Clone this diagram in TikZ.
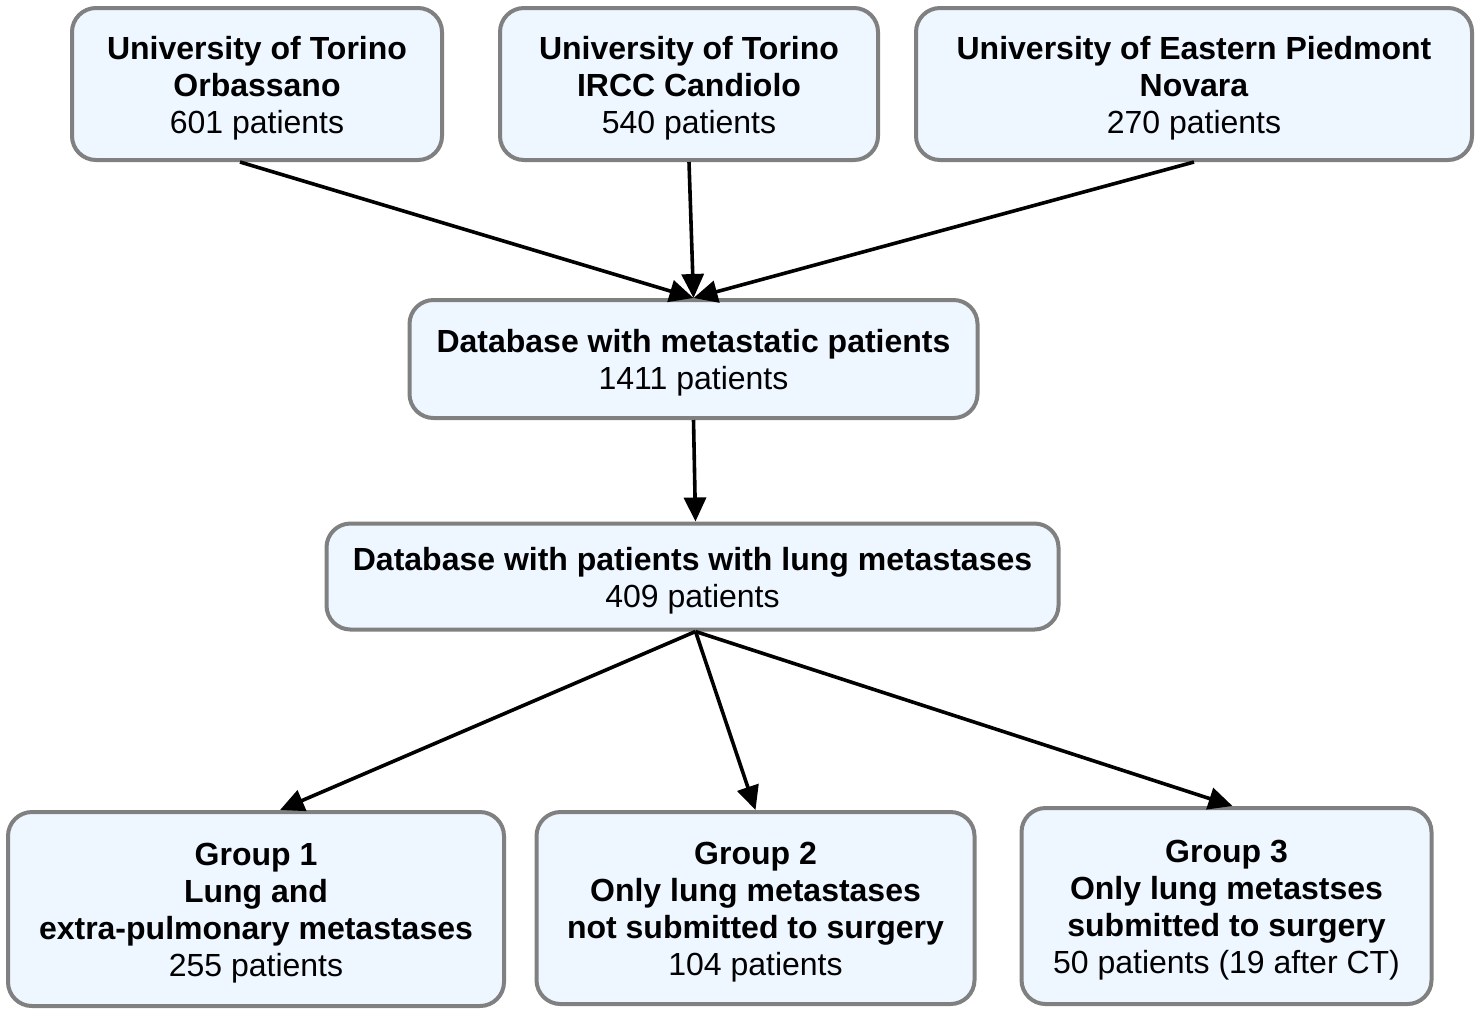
\documentclass[tikz,border=0pt]{standalone}
\usepackage{fontspec}
\setmainfont{Liberation Sans}
\usepackage{tikz}
\usetikzlibrary{arrows.meta}
\definecolor{boxfill}{RGB}{238,246,255}
\definecolor{boxline}{RGB}{128,128,128}
\newcommand{\topgap}{\rule{0pt}{15.5pt}}
\tikzstyle{flowbox} = [draw=boxline, line width=2pt, rectangle, rounded corners=12pt, fill=boxfill, align=center, inner sep=0pt, font=\fontsize{16}{18.5}\selectfont]
\tikzstyle{flowarrow} = [line width=1.8pt, -{Triangle[length=12pt,width=11pt]}]

\begin{document}
\begin{tikzpicture}[x=0.5pt, y=-0.5pt]
	\useasboundingbox (0,0) rectangle (1475,1008);
	% centres
	\node [flowbox, minimum width=185pt, minimum height=76pt] (orb) at (257,84)
		{\topgap\textbf{University of Torino}\\\textbf{Orbassano}\\601 patients};
	\node [flowbox, minimum width=189pt, minimum height=76pt] (cand) at (689,84)
		{\topgap\textbf{University of Torino}\\\textbf{IRCC Candiolo}\\540 patients};
	\node [flowbox, minimum width=278pt, minimum height=76pt] (nov) at (1194,84)
		{\topgap\textbf{University of Eastern Piedmont}\\\textbf{Novara}\\270 patients};
	\node [flowbox, minimum width=284pt, minimum height=59pt] (meta) at (693.5,359)
		{\topgap\textbf{Database with metastatic patients}\\1411 patients};
	\node [flowbox, minimum width=366pt, minimum height=53pt] (lung) at (692.5,576.5)
		{\topgap\textbf{Database with patients with lung metastases}\\409 patients};
	% groups
	\node [flowbox, minimum width=248pt, minimum height=97pt] (grp1) at (256,909)
		{\topgap\textbf{Group 1}\\\textbf{Lung and}\\\textbf{extra-pulmonary metastases}\\255 patients};
	\node [flowbox, minimum width=219pt, minimum height=96pt] (grp2) at (755.5,908)
		{\topgap\textbf{Group 2}\\\textbf{Only lung metastases}\\\textbf{not submitted to surgery}\\104 patients};
	\node [flowbox, minimum width=205pt, minimum height=98pt] (grp3) at (1226.5,906)
		{\topgap\textbf{Group 3}\\\textbf{Only lung metastses}\\\textbf{submitted to surgery}\\50 patients (19 after CT)};

	\draw [flowarrow] ([xshift=-8.5pt]orb.south) -- (meta.north);
	\draw [flowarrow] (cand.south) -- (meta.north);
	\draw [flowarrow] (nov.south) -- (meta.north);
	\draw [flowarrow] (meta.south) -- ([xshift=1.5pt]lung.north);
	\draw [flowarrow] ([xshift=1.5pt]lung.south) -- ([xshift=12pt]grp1.north);
	\draw [flowarrow] ([xshift=1.5pt]lung.south) -- (grp2.north);
	\draw [flowarrow] ([xshift=1.5pt]lung.south) -- ([xshift=3pt]grp3.north);
\end{tikzpicture}
\end{document}
